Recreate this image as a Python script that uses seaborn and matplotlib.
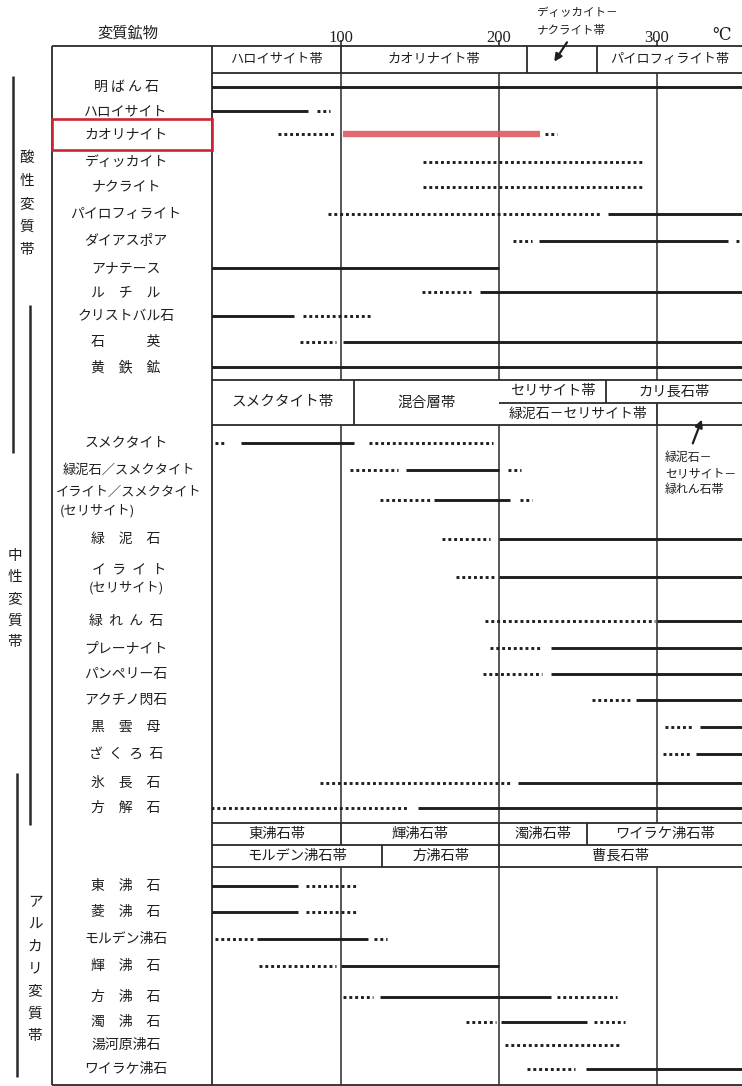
import matplotlib
matplotlib.use("Agg")
import matplotlib.pyplot as plt
import numpy as np
import pandas as pd
import seaborn as sns

# ---------------------------------------------------------------- data
T_TICKS = [100, 200, 300]

# acid alteration zone -------------------------------------------------
acid_minerals = ['明ばん石', 'ハロイサイト', 'カオリナイト', 'ディッカイト', 'ナクライト',
                 'パイロフィライト', 'ダイアスポア', 'アナテース', 'ルチル', 'クリストバル石',
                 '石英', '黄鉄鉱']
acid_labels = ['明 ば ん 石', 'ハロイサイト', 'カオリナイト', 'ディッカイト', 'ナクライト',
               'パイロフィライト', 'ダイアスポア', 'アナテース', 'ル　チ　ル', 'クリストバル石',
               '石　　　英', '黄　鉄　鉱']
# (mineral, from degC, to degC, kind)  s = solid, d = dotted, r = highlighted
acid_segments = [
    ('明ばん石', 18, 354, 's'),
    ('ハロイサイト', 18, 79, 's'), ('ハロイサイト', 85, 93, 'd'),
    ('カオリナイト', 60, 97, 'd'), ('カオリナイト', 101, 226, 'r'), ('カオリナイト', 229, 237, 'd'),
    ('ディッカイト', 152, 292, 'd'),
    ('ナクライト', 152, 292, 'd'),
    ('パイロフィライト', 92, 264, 'd'), ('パイロフィライト', 269, 354, 's'),
    ('ダイアスポア', 209, 221, 'd'), ('ダイアスポア', 225, 345, 's'), ('ダイアスポア', 350, 354, 'd'),
    ('アナテース', 18, 200, 's'),
    ('ルチル', 151, 182, 'd'), ('ルチル', 188, 354, 's'),
    ('クリストバル石', 18, 70, 's'), ('クリストバル石', 76, 120, 'd'),
    ('石英', 74, 97, 'd'), ('石英', 101, 354, 's'),
    ('黄鉄鉱', 18, 354, 's'),
]
acid_zones = ['ハロイサイト帯', 'カオリナイト帯', '', 'パイロフィライト帯']
acid_zone_edges = [18, 100, 218, 262, 354]

# neutral alteration zone ----------------------------------------------
neutral_minerals = ['スメクタイト', '緑泥石/スメクタイト', 'イライト/スメクタイト', '緑泥石',
                    'イライト', '緑れん石', 'プレーナイト', 'パンペリー石', 'アクチノ閃石',
                    '黒雲母', 'ざくろ石', '氷長石', '方解石']
neutral_labels = ['スメクタイト', '緑泥石／スメクタイト', 'イライト／スメクタイト', '緑　泥　石',
                  'イ  ラ  イ  ト', '緑  れ  ん  石', 'プレーナイト', 'パンペリー石', 'アクチノ閃石',
                  '黒　雲　母', 'ざ  く  ろ  石', '氷　長　石', '方　解　石']
neutral_sublabels = ['', '', '(セリサイト)', '', '(セリサイト)', '', '', '', '', '', '', '', '']
neutral_segments = [
    ('スメクタイト', 20, 27, 'd'), ('スメクタイト', 37, 108, 's'), ('スメクタイト', 118, 196, 'd'),
    ('緑泥石/スメクタイト', 106, 136, 'd'), ('緑泥石/スメクタイト', 141, 200, 's'),
    ('緑泥石/スメクタイト', 206, 214, 'd'),
    ('イライト/スメクタイト', 125, 157, 'd'), ('イライト/スメクタイト', 159, 207, 's'),
    ('イライト/スメクタイト', 213, 221, 'd'),
    ('緑泥石', 164, 194, 'd'), ('緑泥石', 200, 354, 's'),
    ('イライト', 173, 197, 'd'), ('イライト', 200, 354, 's'),
    ('緑れん石', 191, 299, 'd'), ('緑れん石', 300, 354, 's'),
    ('プレーナイト', 194, 226, 'd'), ('プレーナイト', 233, 354, 's'),
    ('パンペリー石', 190, 227, 'd'), ('パンペリー石', 233, 354, 's'),
    ('アクチノ閃石', 259, 284, 'd'), ('アクチノ閃石', 287, 354, 's'),
    ('黒雲母', 305, 323, 'd'), ('黒雲母', 327, 354, 's'),
    ('ざくろ石', 304, 322, 'd'), ('ざくろ石', 325, 354, 's'),
    ('氷長石', 87, 208, 'd'), ('氷長石', 212, 354, 's'),
    ('方解石', 18, 142, 'd'), ('方解石', 149, 354, 's'),
]
neutral_zones_left = ['スメクタイト帯', '混合層帯']
neutral_zone_left_edges = [18, 108, 200]
neutral_zones_top = ['セリサイト帯', 'カリ長石帯']
neutral_zone_top_edges = [200, 268, 354]
neutral_zones_bottom = ['緑泥石－セリサイト帯', '']
neutral_zone_bottom_edges = [200, 300, 354]

# alkali alteration zone -----------------------------------------------
zeolite_minerals = ['東沸石', '菱沸石', 'モルデン沸石', '輝沸石', '方沸石', '濁沸石',
                    '湯河原沸石', 'ワイラケ沸石']
zeolite_labels = ['東　沸　石', '菱　沸　石', 'モルデン沸石', '輝　沸　石', '方　沸　石',
                  '濁　沸　石', '湯河原沸石', 'ワイラケ沸石']
zeolite_segments = [
    ('東沸石', 18, 73, 's'), ('東沸石', 78, 110, 'd'),
    ('菱沸石', 18, 73, 's'), ('菱沸石', 78, 110, 'd'),
    ('モルデン沸石', 20, 44, 'd'), ('モルデン沸石', 47, 117, 's'), ('モルデン沸石', 121, 129, 'd'),
    ('輝沸石', 48, 97, 'd'), ('輝沸石', 100, 200, 's'),
    ('方沸石', 101, 120, 'd'), ('方沸石', 125, 233, 's'), ('方沸石', 237, 275, 'd'),
    ('濁沸石', 179, 198, 'd'), ('濁沸石', 201, 256, 's'), ('濁沸石', 260, 280, 'd'),
    ('湯河原沸石', 204, 276, 'd'),
    ('ワイラケ沸石', 218, 248, 'd'), ('ワイラケ沸石', 255, 354, 's'),
]
zeolite_zones_top = ['東沸石帯', '輝沸石帯', '濁沸石帯', 'ワイラケ沸石帯']
zeolite_zone_top_edges = [18, 100, 200, 256, 354]
zeolite_zones_bottom = ['モルデン沸石帯', '方沸石帯', '曹長石帯']
zeolite_zone_bottom_edges = [18, 126, 200, 354]

group_names = ['酸性変質帯', '中性変質帯', 'アルカリ変質帯']

# ---------------------------------------------------------------- layout (pixel rows)
W, H = 742, 1086
X_LABEL_L, X_DATA_L = 52, 212
Y_TOP, Y_BOT = 46, 1085
PX100, PX_PER_100 = 341, 158.0
T_MIN = 100 + (X_DATA_L - PX100) / PX_PER_100 * 100
T_MAX = 100 + (W - PX100) / PX_PER_100 * 100

acid_rows_y = [87, 111, 134, 162, 187, 214, 241, 268, 292, 316, 342, 367]
neutral_rows_y = [443, 470, 500, 539, 577, 621, 648, 674, 700, 727, 754, 783, 808]
zeolite_rows_y = [886, 912, 939, 966, 997, 1022, 1045, 1069]

ACID_HDR = (46, 73)
ACID_BODY = (73, 380)
NEU_HDR = (380, 403, 425)
NEU_BODY = (425, 823)
ZEO_HDR = (823, 845, 867)
ZEO_BODY = (867, 1085)

INK = '#1f1f1f'
GRID = '#2a2a2a'

sns.set_theme(style='white')
plt.rcParams['font.family'] = ['Noto Sans CJK JP', 'DejaVu Sans']

fig = plt.figure(figsize=(W / 100, H / 100), dpi=100)
fig.patch.set_facecolor('white')

# overlay axes in pixel coordinates for the frame and label column
axf = fig.add_axes([0, 0, 1, 1])
axf.set_xlim(0, W)
axf.set_ylim(H, 0)
axf.axis('off')

ax = fig.add_axes([X_DATA_L / W, 1 - Y_BOT / H, (W - X_DATA_L) / W, (Y_BOT - Y_TOP) / H])
ax.set_facecolor('none')
ax.set_xlim(T_MIN, T_MAX)
ax.set_ylim(Y_BOT, Y_TOP)
for s in ax.spines.values():
    s.set_visible(False)

# ---- build long-form segment table
rows = []
seg_id = 0
for minerals, ys, segs in [(acid_minerals, acid_rows_y, acid_segments),
                           (neutral_minerals, neutral_rows_y, neutral_segments),
                           (zeolite_minerals, zeolite_rows_y, zeolite_segments)]:
    ymap = dict(zip(minerals, ys))
    for name, t0, t1, kind in segs:
        for t in (t0, t1):
            rows.append(dict(mineral=name, T=t, y=ymap[name], seg=seg_id, kind=kind))
        seg_id += 1
df = pd.DataFrame(rows)

# ---- grid & frame inside data area
lw_frame = 1.3
for (y0, y1) in [ACID_BODY, NEU_BODY, ZEO_BODY]:
    ax.vlines(T_TICKS, y0, y1, color=GRID, lw=1.1, zorder=1)
for y in [ACID_HDR[1], NEU_HDR[0], NEU_HDR[2], ZEO_HDR[0], ZEO_HDR[1], ZEO_HDR[2]]:
    ax.hlines(y, T_MIN, T_MAX, color=GRID, lw=lw_frame, zorder=1)
ax.hlines(NEU_HDR[1], neutral_zone_top_edges[0], T_MAX, color=GRID, lw=lw_frame, zorder=1)


def zone_cells(names, edges, y0, y1, fs):
    ax.vlines(edges[1:-1], y0, y1, color=GRID, lw=lw_frame, zorder=1)
    for name, e0, e1 in zip(names, edges[:-1], edges[1:]):
        if name:
            ax.text((max(e0, T_MIN) + min(e1, T_MAX)) / 2, (y0 + y1) / 2, name,
                    ha='center', va='center', fontsize=fs, color=INK)


zone_cells(acid_zones, acid_zone_edges, ACID_HDR[0], ACID_HDR[1], 9.5)
zone_cells(neutral_zones_left, neutral_zone_left_edges, NEU_HDR[0], NEU_HDR[2], 10.5)
zone_cells(neutral_zones_top, neutral_zone_top_edges, NEU_HDR[0], NEU_HDR[1], 10.3)
zone_cells(neutral_zones_bottom, neutral_zone_bottom_edges, NEU_HDR[1], NEU_HDR[2], 10)
zone_cells(zeolite_zones_top, zeolite_zone_top_edges, ZEO_HDR[0], ZEO_HDR[1], 10.3)
zone_cells(zeolite_zones_bottom, zeolite_zone_bottom_edges, ZEO_HDR[1], ZEO_HDR[2], 10.3)

# ---- range lines via seaborn
common = dict(x='T', y='y', units='seg', estimator=None, sort=False, ax=ax, legend=False)
sns.lineplot(data=df[df.kind == 's'], color=INK, lw=2.1, solid_capstyle='butt', zorder=3, **common)
sns.lineplot(data=df[df.kind == 'd'], color=INK, lw=2.1, linestyle=(0, (1.0, 1.0)),
             dash_capstyle='butt', zorder=3, **common)
sns.lineplot(data=df[df.kind == 'r'], color='#dd5a61', lw=4.6, solid_capstyle='butt',
             alpha=0.9, zorder=4, **common)
ax.set_xlabel('')
ax.set_ylabel('')

# ---- temperature ticks on top
ax.xaxis.tick_top()
ax.set_xticks(T_TICKS)
ax.set_xticklabels([str(t) for t in T_TICKS], fontfamily='Liberation Serif', fontsize=12, color=INK)
ax.tick_params(axis='x', top=True, bottom=False, length=4, width=1.1, pad=-4, color=INK, direction='out')
ax.set_yticks([])
ax.text(1.0 - 20 / (W - X_DATA_L), 1 + 10 / (Y_BOT - Y_TOP), '℃', transform=ax.transAxes,
        ha='center', va='center', fontsize=12, color=INK, family=['DejaVu Serif'])

# ---- annotations
ax.text(224, 13, 'ディッカイト－', ha='left', va='center', fontsize=8.3, color=INK, clip_on=False)
ax.text(224, 31, 'ナクライト帯', ha='left', va='center', fontsize=8.3, color=INK, clip_on=False)
ax.annotate('', xy=(234, 64), xytext=(244, 40), annotation_clip=False,
            arrowprops=dict(arrowstyle='-|>', lw=1.6, color=INK, mutation_scale=11))
for i, t in enumerate(['緑泥石－', 'セリサイト－', '緑れん石帯']):
    ax.text(305, 457 + i * 16.5, t, ha='left', va='center', fontsize=8.6, color=INK)
ax.annotate('', xy=(329, 417), xytext=(322, 446),
            arrowprops=dict(arrowstyle='-|>', lw=1.6, color=INK, mutation_scale=11))

# ---- frame (pixel overlay)
axf.hlines([Y_TOP, Y_BOT], X_LABEL_L, W, color=GRID, lw=lw_frame)
axf.vlines([X_LABEL_L, X_DATA_L], Y_TOP, Y_BOT, color=GRID, lw=lw_frame)
axf.text(128, 33, '変質鉱物', ha='center', va='center', fontsize=11, color=INK)

# ---- mineral labels
LABEL_X = 126
for lab, y in zip(acid_labels, acid_rows_y):
    axf.text(LABEL_X, y, lab, ha='center', va='center', fontsize=10, color=INK)
for lab, sub, y in zip(neutral_labels, neutral_sublabels, neutral_rows_y):
    fs = 9.5 if '／' in lab else 10
    if sub:
        axf.text(LABEL_X + 3, y - 8, lab, ha='center', va='center', fontsize=fs, color=INK)
        if '／' in lab:
            axf.text(60, y + 11, sub, ha='left', va='center', fontsize=9.5, color=INK)
        else:
            axf.text(LABEL_X, y + 11, sub, ha='center', va='center', fontsize=9.5, color=INK)
    else:
        axf.text(LABEL_X + (3 if '／' in lab else 0), y, lab, ha='center', va='center',
                 fontsize=fs, color=INK)
for lab, y in zip(zeolite_labels, zeolite_rows_y):
    axf.text(LABEL_X, y, lab, ha='center', va='center', fontsize=10, color=INK)

# highlight box around カオリナイト
kao_y = acid_rows_y[acid_minerals.index('カオリナイト')]
axf.add_patch(plt.Rectangle((X_LABEL_L, kao_y - 15), X_DATA_L - X_LABEL_L, 31, fill=False,
                            edgecolor='#cc2533', lw=1.9, zorder=5))

# ---- group brackets and vertical names
brackets = [(13, 76, 453), (30, 305, 825), (17, 773, 1077)]
name_pos = [(27, 158, 23), (15, 556, 21.5), (35, 902, 22.3)]
for (bx, b0, b1), name, (tx, ty0, dy) in zip(brackets, group_names, name_pos):
    axf.vlines(bx, b0, b1, color='#2a2a2a', lw=1.8)
    for k, ch in enumerate(name):
        axf.text(tx, ty0 + k * dy, ch, ha='center', va='center', fontsize=10.5, color=INK)

fig.savefig('out.png', dpi=100, facecolor='white')
